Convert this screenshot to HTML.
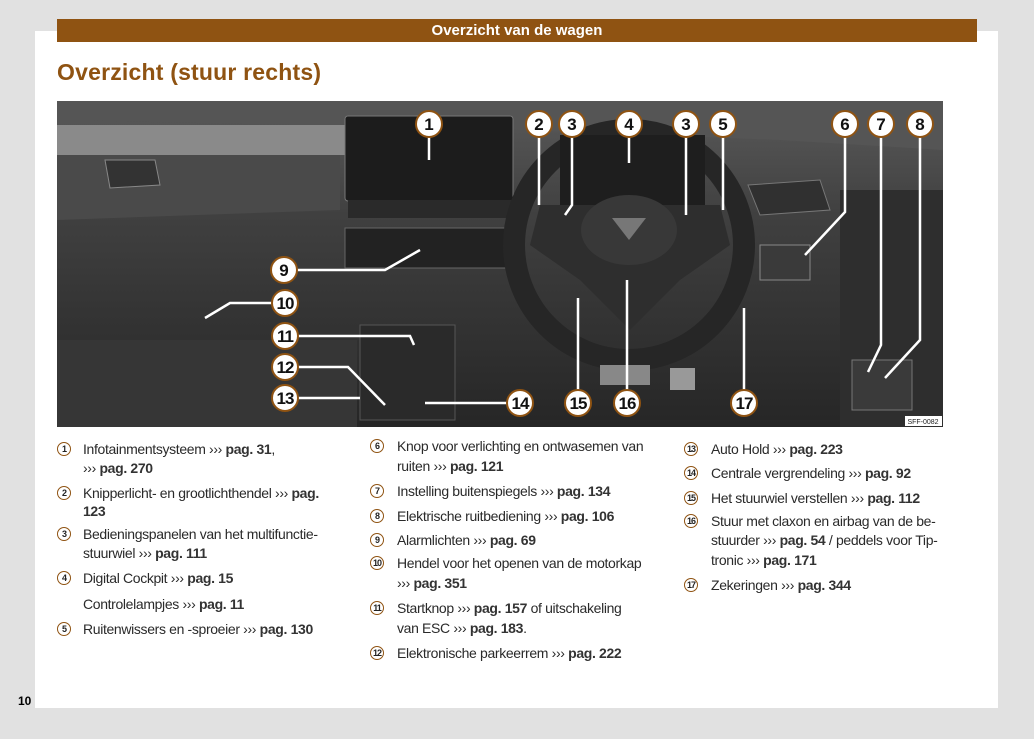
<!DOCTYPE html>
<html><head><meta charset="utf-8"><style>
body{margin:0;width:1034px;height:739px;background:#e1e1e1;position:relative;overflow:hidden;font-family:"Liberation Sans",sans-serif}
.page{position:absolute;left:35px;top:31px;width:963px;height:677px;background:#fff}
.bar{position:absolute;left:57px;top:19px;width:920px;height:23px;background:#8f5312;color:#fff;font-weight:bold;font-size:15px;text-align:center;line-height:23px}
.title{position:absolute;left:57px;top:59px;font-size:23px;font-weight:bold;color:#8f5312;letter-spacing:0.2px}
.l{position:absolute;font-size:14px;color:#2a2a2a;white-space:nowrap;letter-spacing:-0.35px;line-height:18px}
.l b{font-weight:bold;color:#333}
.n{position:absolute;width:12px;height:12px;border:1.3px solid #8f5312;border-radius:50%;font-size:9px;font-weight:bold;text-align:center;line-height:12px;color:#222;letter-spacing:-1px}
.pn{position:absolute;left:18px;top:694px;font-size:12px;font-weight:bold}
</style></head><body>
<div class="page"></div>
<div class="bar">Overzicht van de wagen</div>
<div class="title">Overzicht (stuur rechts)</div>
<svg style="position:absolute;left:57px;top:101px" width="886" height="326" viewBox="57 101 886 326">
<defs><linearGradient id="g" x1="0" y1="0" x2="0" y2="1"><stop offset="0" stop-color="#5a5a5a"/><stop offset="0.35" stop-color="#404040"/><stop offset="1" stop-color="#262626"/></linearGradient></defs>
<rect x="57" y="101" width="886" height="326" fill="url(#g)"/>
<path d="M57 101 L943 101 L943 150 L780 140 L520 130 L57 120Z" fill="#555"/>
<path d="M57 150 L340 150 L340 210 L57 220Z" fill="#4a4a4a"/>
<rect x="57" y="125" width="290" height="30" fill="#8a8a8a"/>
<rect x="345" y="116" width="168" height="85" rx="3" fill="#1c1c1c" stroke="#777"/>
<rect x="348" y="200" width="165" height="18" fill="#2a2a2a"/>
<rect x="345" y="228" width="165" height="40" fill="#222" stroke="#666"/>
<rect x="360" y="325" width="95" height="95" fill="#2a2a2a" stroke="#555"/>
<rect x="57" y="340" width="300" height="87" fill="#363636"/>
<rect x="840" y="190" width="103" height="237" fill="#2e2e2e"/>
<path d="M748 185 L820 180 L830 210 L760 215Z" fill="#303030" stroke="#777"/>
<path d="M105 160 L155 160 L160 185 L110 188Z" fill="#333" stroke="#888"/>
<circle cx="629" cy="245" r="115" fill="none" stroke="#262626" stroke-width="22"/>
<rect x="560" y="135" width="145" height="75" fill="#1e1e1e"/>
<path d="M540 205 L720 205 L730 245 L680 280 L630 330 L580 280 L530 245Z" fill="#2e2e2e"/>
<ellipse cx="629" cy="230" rx="48" ry="35" fill="#383838"/>
<path d="M612 218 L646 218 L629 240Z" fill="#777"/>
<rect x="760" y="245" width="50" height="35" fill="#3a3a3a" stroke="#888"/>
<rect x="600" y="365" width="50" height="20" fill="#888"/>
<rect x="670" y="368" width="25" height="22" fill="#999"/>
<rect x="852" y="360" width="60" height="50" fill="#3a3a3a" stroke="#777"/>
<g stroke="#fff" stroke-width="2.5" fill="none">
<path d="M429 137 V160"/><path d="M539 137 V205"/><path d="M572 137 V205 L565 215"/><path d="M629 137 V163"/><path d="M686 137 V215"/><path d="M723 137 V210"/>
<path d="M845 137 V212 L805 255"/><path d="M881 137 V345 L868 372"/><path d="M920 137 L920 340 L885 378"/>
<path d="M297 270 H385 L420 250"/><path d="M272 303 H230 L205 318"/><path d="M298 336 H410 L414 345"/>
<path d="M298 367 H348 L385 405"/><path d="M298 398 H360"/><path d="M507 403 H425"/>
<path d="M578 390 V298"/><path d="M627 390 V280"/><path d="M744 390 V308"/>
</g>
<g font-family="Liberation Sans" font-weight="bold" font-size="17" text-anchor="middle">
<g fill="#fff" stroke="#8f5312" stroke-width="2">
<circle cx="429" cy="124" r="13"/><circle cx="539" cy="124" r="13"/><circle cx="572" cy="124" r="13"/><circle cx="629" cy="124" r="13"/><circle cx="686" cy="124" r="13"/><circle cx="723" cy="124" r="13"/><circle cx="845" cy="124" r="13"/><circle cx="881" cy="124" r="13"/><circle cx="920" cy="124" r="13"/>
<circle cx="284" cy="270" r="13"/><circle cx="285" cy="303" r="13"/><circle cx="285" cy="336" r="13"/><circle cx="285" cy="367" r="13"/><circle cx="285" cy="398" r="13"/><circle cx="520" cy="403" r="13"/><circle cx="578" cy="403" r="13"/><circle cx="627" cy="403" r="13"/><circle cx="744" cy="403" r="13"/>
</g>
<g fill="#111">
<text x="429" y="130">1</text><text x="539" y="130">2</text><text x="572" y="130">3</text><text x="629" y="130">4</text><text x="686" y="130">3</text><text x="723" y="130">5</text><text x="845" y="130">6</text><text x="881" y="130">7</text><text x="920" y="130">8</text>
<text x="284" y="276">9</text><text x="285" y="309" letter-spacing="-1">10</text><text x="285" y="342" letter-spacing="-1">11</text><text x="285" y="373" letter-spacing="-1">12</text><text x="285" y="404" letter-spacing="-1">13</text><text x="520" y="409" letter-spacing="-1">14</text><text x="578" y="409" letter-spacing="-1">15</text><text x="627" y="409" letter-spacing="-1">16</text><text x="744" y="409" letter-spacing="-1">17</text>
</g></g>
<rect x="905" y="416" width="37" height="10" fill="#fff"/>
<text x="923" y="424" font-family="Liberation Sans" font-size="7" text-anchor="middle" fill="#222">SFF-0082</text>
</svg>

<div class="n" style="left:57px;top:442px">1</div>
<div class="l" style="left:83px;top:440px">Infotainmentsysteem ››› <b>pag. 31</b>,</div>
<div class="l" style="left:83px;top:459px">››› <b>pag. 270</b></div>
<div class="n" style="left:57px;top:486px">2</div>
<div class="l" style="left:83px;top:484px">Knipperlicht- en grootlichthendel ››› <b>pag.</b></div>
<div class="l" style="left:83px;top:502px"><b>123</b></div>
<div class="n" style="left:57px;top:527px">3</div>
<div class="l" style="left:83px;top:525px">Bedieningspanelen van het multifunctie-</div>
<div class="l" style="left:83px;top:544px">stuurwiel ››› <b>pag. 111</b></div>
<div class="n" style="left:57px;top:571px">4</div>
<div class="l" style="left:83px;top:569px">Digital Cockpit ››› <b>pag. 15</b></div>
<div class="l" style="left:83px;top:595px">Controlelampjes ››› <b>pag. 11</b></div>
<div class="n" style="left:57px;top:622px">5</div>
<div class="l" style="left:83px;top:620px">Ruitenwissers en -sproeier ››› <b>pag. 130</b></div>

<div class="n" style="left:370px;top:439px">6</div>
<div class="l" style="left:397px;top:437px">Knop voor verlichting en ontwasemen van</div>
<div class="l" style="left:397px;top:457px">ruiten ››› <b>pag. 121</b></div>
<div class="n" style="left:370px;top:484px">7</div>
<div class="l" style="left:397px;top:482px">Instelling buitenspiegels ››› <b>pag. 134</b></div>
<div class="n" style="left:370px;top:509px">8</div>
<div class="l" style="left:397px;top:507px">Elektrische ruitbediening ››› <b>pag. 106</b></div>
<div class="n" style="left:370px;top:533px">9</div>
<div class="l" style="left:397px;top:531px">Alarmlichten ››› <b>pag. 69</b></div>
<div class="n" style="left:370px;top:556px">10</div>
<div class="l" style="left:397px;top:554px">Hendel voor het openen van de motorkap</div>
<div class="l" style="left:397px;top:574px">››› <b>pag. 351</b></div>
<div class="n" style="left:370px;top:601px">11</div>
<div class="l" style="left:397px;top:599px">Startknop ››› <b>pag. 157</b> of uitschakeling</div>
<div class="l" style="left:397px;top:619px">van ESC ››› <b>pag. 183</b>.</div>
<div class="n" style="left:370px;top:646px">12</div>
<div class="l" style="left:397px;top:644px">Elektronische parkeerrem ››› <b>pag. 222</b></div>

<div class="n" style="left:684px;top:442px">13</div>
<div class="l" style="left:711px;top:440px">Auto Hold ››› <b>pag. 223</b></div>
<div class="n" style="left:684px;top:466px">14</div>
<div class="l" style="left:711px;top:464px">Centrale vergrendeling ››› <b>pag. 92</b></div>
<div class="n" style="left:684px;top:491px">15</div>
<div class="l" style="left:711px;top:489px">Het stuurwiel verstellen ››› <b>pag. 112</b></div>
<div class="n" style="left:684px;top:514px">16</div>
<div class="l" style="left:711px;top:512px">Stuur met claxon en airbag van de be-</div>
<div class="l" style="left:711px;top:531px">stuurder ››› <b>pag. 54</b> / peddels voor Tip-</div>
<div class="l" style="left:711px;top:551px">tronic ››› <b>pag. 171</b></div>
<div class="n" style="left:684px;top:578px">17</div>
<div class="l" style="left:711px;top:576px">Zekeringen ››› <b>pag. 344</b></div>
<div class="pn">10</div>
</body></html>
